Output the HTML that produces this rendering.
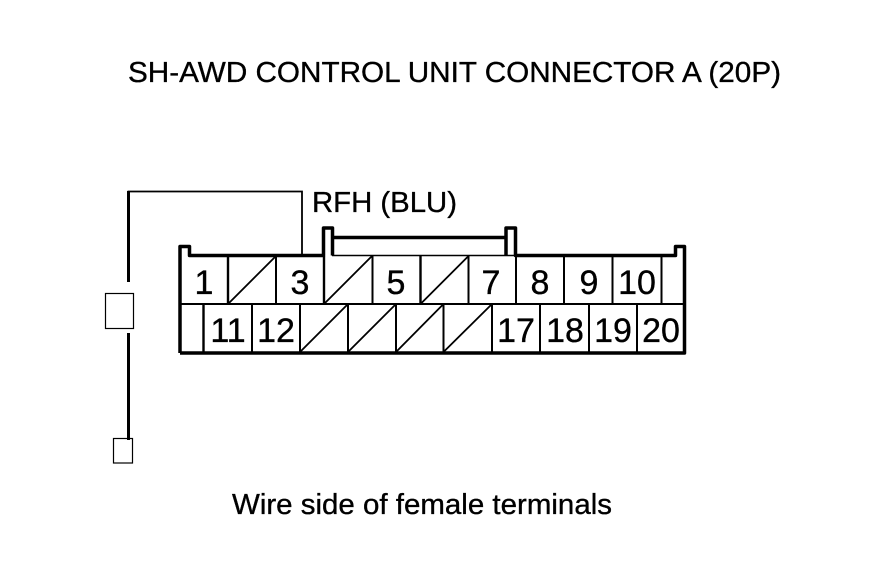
<!DOCTYPE html>
<html><head><meta charset="utf-8"><style>
html,body{margin:0;padding:0;background:#fff}
svg{display:block}
text{font-family:"Liberation Sans",sans-serif;fill:#000;stroke:#000;stroke-width:.35px}
.n{font-size:34px;text-anchor:middle}
.l{font-size:29px}
</style></head><body>
<svg width="880" height="580" viewBox="0 0 880 580" xmlns="http://www.w3.org/2000/svg">
<rect width="880" height="580" fill="#fff"/>
<text class="l" x="128" y="82" textLength="653" lengthAdjust="spacingAndGlyphs">SH-AWD CONTROL UNIT CONNECTOR A (20P)</text>
<text class="l" x="312" y="212" textLength="145" lengthAdjust="spacingAndGlyphs">RFH (BLU)</text>
<text class="l" x="232" y="514" textLength="380" lengthAdjust="spacingAndGlyphs">Wire side of female terminals</text>

<!-- wire -->
<path d="M128.500 282V191.500H302V256" fill="none" stroke="#000" stroke-width="1.800"/>
<rect x="127" y="191" width="3" height="91"/>
<rect x="127" y="333" width="3" height="107"/>
<rect x="105.500" y="293.500" width="28" height="35" fill="none" stroke="#000" stroke-width="1.200"/>
<rect x="113.500" y="438.500" width="19" height="24.500" fill="none" stroke="#000" stroke-width="1.200"/>

<!-- connector outline -->
<path d="M180 353H684.500V246.500H675.500V255.500H515.500V228H506V255.500" fill="none" stroke="#000" stroke-width="3.500" stroke-linejoin="round"/>
<path d="M180 353V246.500H189.500V255.500H323.500V228H332.500V255.500" fill="none" stroke="#000" stroke-width="3.500" stroke-linejoin="round"/>
<path d="M332.500 237.500H506" fill="none" stroke="#000" stroke-width="3.500"/>
<path d="M332 255.500H516" stroke="#000" stroke-width="1.500"/>

<!-- row divider -->
<path d="M180 304H684" stroke="#000" stroke-width="2"/>

<!-- vertical dividers -->
<g stroke="#000" stroke-width="2" fill="none">
<path d="M228 256V304M276 256V304M324 256V304M372.500 256V304M420.500 256V304M468.500 256V304M516 256V304M564 256V304M612.500 256V304M661.500 256V304"/>
<path d="M203.500 304V352M252 304V352M300 304V352M348 304V352M396 304V352M443.500 304V352M492 304V352M540 304V352M589 304V352M637 304V352"/>
</g>
<rect x="226.800" y="256" width="2.400" height="48"/>
<rect x="322.800" y="256" width="2.400" height="48"/>
<rect x="419.300" y="256" width="2.400" height="48"/>
<rect x="202.300" y="304" width="2.400" height="48"/>

<!-- diagonals -->
<g stroke="#000" stroke-width="1.800">
<path d="M228 304L276 256M324 304L372 256M420.500 304L468.500 256"/>
<path d="M300 352L348 304M348 352L396 304M396 352L443.500 304M443.500 352L492 304"/>
</g>

<!-- numbers -->
<text class="n" x="204" y="294">1</text>
<text class="n" x="300" y="294">3</text>
<text class="n" x="396" y="294">5</text>
<text class="n" x="491" y="294">7</text>
<text class="n" x="540" y="294">8</text>
<text class="n" x="589" y="294">9</text>
<text class="n" x="637" y="294">10</text>
<text class="n" x="228" y="342">11</text>
<text class="n" x="276" y="342">12</text>
<text class="n" x="516" y="342">17</text>
<text class="n" x="565" y="342">18</text>
<text class="n" x="613" y="342">19</text>
<text class="n" x="661" y="342">20</text>
</svg>
</body></html>
